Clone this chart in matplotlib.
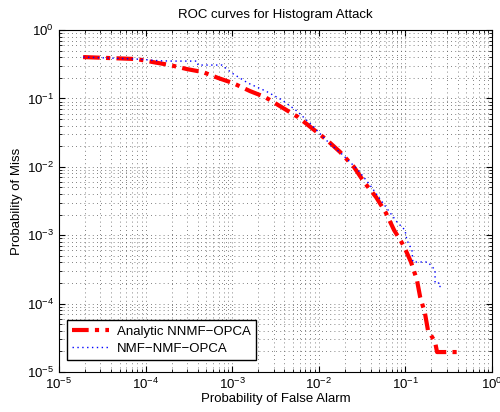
import numpy as np
import matplotlib
matplotlib.use("Agg")
import matplotlib.pyplot as plt

plt.rcParams['font.family'] = ['Liberation Sans', 'DejaVu Sans']
plt.rcParams['mathtext.fontset'] = 'custom'
plt.rcParams['mathtext.rm'] = 'Liberation Sans'
plt.rcParams['mathtext.it'] = 'Liberation Sans:italic'
plt.rcParams['font.size'] = 9.5

# === ROC data ===
pfa_analytic = [1.9e-5, 7.9e-5, 1.22e-4, 1.91e-4, 3.0e-4, 4.6e-4, 6.9e-4, 1.02e-3,
                1.61e-3, 2.39e-3, 5.75e-3, 8.3e-3, 1.24e-2, 1.76e-2, 2.55e-2, 3.33e-2,
                4.58e-2, 5.97e-2, 7.4e-2, 9.6e-2, 0.116, 0.136, 0.148, 0.168, 0.182,
                0.22, 0.232, 0.394]
pm_analytic = [0.403, 0.377, 0.340, 0.308, 0.269, 0.243, 0.199, 0.168,
               0.128, 0.105, 0.0535, 0.0369, 0.0247, 0.0165, 0.00993, 0.0060,
               0.00362, 0.00211, 0.00119, 6.95e-4, 4.06e-4, 2.21e-4, 1.25e-4, 7.3e-5, 4.1e-5,
               2.75e-5, 1.96e-5, 1.96e-5]

pfa_nmf = [1.9e-5, 7.9e-5, 1.5e-4, 2.02e-4, 3.93e-4, 4.03e-4, 7.6e-4, 9.95e-4,
           1.52e-3, 2.45e-3, 3.76e-3, 5.6e-3, 8.3e-3, 1.28e-2, 1.90e-2, 2.84e-2,
           3.9e-2, 5.5e-2, 8.0e-2, 0.099, 0.104, 0.119, 0.122, 0.182, 0.22,
           0.22, 0.251, 0.251]
pm_nmf = [0.403, 0.377, 0.355, 0.352, 0.352, 0.308, 0.308, 0.235,
          0.168, 0.128, 0.095, 0.0655, 0.0408, 0.0231, 0.0149, 0.00898,
          0.00542, 0.00296, 1.56e-3, 1.19e-3, 8.5e-4, 6.1e-4, 4.06e-4, 4.06e-4, 3.1e-4,
          2.0e-4, 2.0e-4, 1.58e-4]

fig = plt.figure(figsize=(5.0, 4.12), dpi=100)
ax = fig.add_axes([0.118, 0.097, 0.866, 0.830])

ax.loglog(pfa_analytic, pm_analytic, color='r', linestyle=(0, (4, 1.5, 1, 1.5)),
          linewidth=3, label='Analytic NNMF\u2212OPCA')
ax.loglog(pfa_nmf, pm_nmf, color='b', linestyle=(0, (1, 2.5)), linewidth=1,
          label='NMF\u2212NMF\u2212OPCA')

ax.set_xlim(1e-5, 1e0)
ax.set_ylim(1e-5, 1e0)
ax.grid(True, which='both', linestyle=(0, (1, 4)), color='0.35', linewidth=0.6)
ax.tick_params(which='both', direction='in', top=True, right=True)
ax.tick_params(which='major', length=4)
ax.tick_params(which='minor', length=2)

ax.set_title('ROC curves for Histogram Attack', fontsize=9.5, pad=9)
ax.set_xlabel('Probability of False Alarm', labelpad=1)
ax.set_ylabel('Probability of Miss', labelpad=3)

leg = ax.legend(loc='lower left', bbox_to_anchor=(0.018, 0.035), fancybox=False,
                edgecolor='k', framealpha=1, fontsize=9.5, handlelength=2.8,
                handletextpad=0.6, borderaxespad=0, borderpad=0.4, labelspacing=0.35)
leg.get_frame().set_linewidth(1.0)

fig.savefig('out.png', dpi=100)
